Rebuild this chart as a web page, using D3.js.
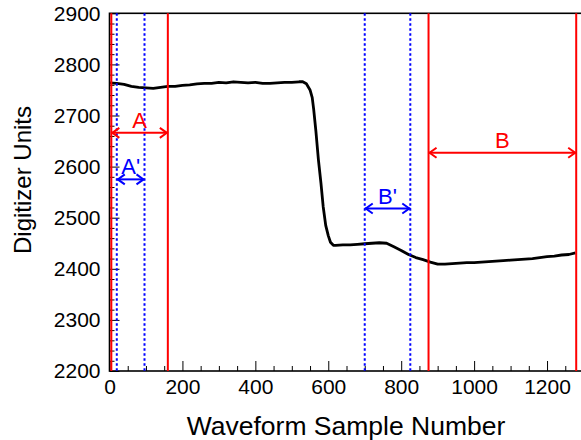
<!DOCTYPE html>
<html>
<head>
<meta charset="utf-8">
<script src="https://cdn.jsdelivr.net/npm/d3@7"></script>
<style>
  html, body { margin: 0; padding: 0; background: #fff; }
  svg { display: block; font-family: "Liberation Sans", Arial, Helvetica, sans-serif; }
</style>
</head>
<body>
<svg id="chart" width="581" height="440"></svg>
<script>
// ---- Data ----
const sampleNumber = [0,20,40,60,80,100,120,140,160,180,200,220,240,260,280,300,320,340,360,380,400,420,440,460,480,500,520,530,540,550,556,560,566,573,580,586,593,600,606,614,620,640,660,680,700,720,740,760,780,800,820,840,860,880,900,920,940,960,980,1000,1020,1040,1060,1080,1100,1120,1140,1160,1180,1200,1220,1240,1260,1278];
const digitizerUnits = [2764,2763,2761,2757,2755,2754,2753,2755,2757,2757,2759,2760,2762,2763,2763,2765,2764,2766,2765,2764,2765,2763,2763,2764,2765,2765,2766,2766,2762,2750,2735,2712,2670,2613,2567,2522,2485,2465,2452,2446,2446,2447,2447,2448,2449,2450,2451,2450,2443,2436,2428,2422,2418,2413,2409,2409,2410,2411,2412,2412,2413,2414,2415,2416,2417,2418,2419,2420,2422,2424,2425,2427,2428,2431];

const redWindows = [5, 160, 875, 1280];      // solid red lines
const blueWindows = [20, 96, 700, 825];      // dotted blue lines
const rangeArrows = [
  { label: "A",  from: 5,   to: 160,  value: 2666, color: "#ff0000" },
  { label: "A'", from: 20,  to: 96,   value: 2575, color: "#0000ff" },
  { label: "B'", from: 700, to: 825,  value: 2518, color: "#0000ff" },
  { label: "B",  from: 875, to: 1280, value: 2627, color: "#ff0000" }
];
const xTickValues = [0, 200, 400, 600, 800, 1000, 1200];
const yTickValues = [2200, 2300, 2400, 2500, 2600, 2700, 2800, 2900];
const xTitle = "Waveform Sample Number";
const yTitle = "Digitizer Units";

// ---- Layout ----
const svg = d3.select("#chart");
const pL = 109.5, pR = 583.5, pT = 13.3, pB = 371;
const x = d3.scaleLinear().domain([0, 1300]).range([pL, pR]);
const y = d3.scaleLinear().domain([2200, 2900]).range([pB, pT]);

// frame
svg.append("rect")
  .attr("x", pL).attr("y", pT)
  .attr("width", pR - pL).attr("height", pB - pT)
  .attr("fill", "none").attr("stroke", "#000").attr("stroke-width", 1.6);

// minor ticks
const xMinor = d3.range(0, 1301, 50).filter(v => v % 200 !== 0);
const yMinor = d3.range(2200, 2901, 20).filter(v => v % 100 !== 0);

svg.append("g").attr("transform", `translate(0,${pB})`)
  .call(d3.axisBottom(x).tickValues(xMinor).tickSizeInner(-5).tickSizeOuter(0).tickFormat(""))
  .call(g => g.select(".domain").remove());
svg.append("g").attr("transform", `translate(${pL},0)`)
  .call(d3.axisLeft(y).tickValues(yMinor).tickSizeInner(-5).tickSizeOuter(0).tickFormat(""))
  .call(g => g.select(".domain").remove());

// major axes
const xAxis = svg.append("g").attr("transform", `translate(0,${pB})`)
  .call(d3.axisBottom(x).tickValues(xTickValues).tickSizeInner(-10).tickSizeOuter(0).tickPadding(8).tickFormat(d3.format("d")));
xAxis.select(".domain").remove();
xAxis.selectAll("text").attr("font-size", 21).attr("fill", "#000").attr("dy", "0.71em");

const yAxis = svg.append("g").attr("transform", `translate(${pL},0)`)
  .call(d3.axisLeft(y).tickValues(yTickValues).tickSizeInner(-10).tickSizeOuter(0).tickPadding(9).tickFormat(d3.format("d")));
yAxis.select(".domain").remove();
yAxis.selectAll("text").attr("font-size", 21).attr("fill", "#000");

svg.selectAll(".tick line").attr("stroke", "#000").attr("stroke-width", 1);

// waveform
const line = d3.line().x((d, i) => x(sampleNumber[i])).y(d => y(d));
svg.append("path")
  .datum(digitizerUnits)
  .attr("d", line)
  .attr("fill", "none")
  .attr("stroke", "#000")
  .attr("stroke-width", 2.8)
  .attr("stroke-linejoin", "round");

// vertical window lines
svg.selectAll(".redline").data(redWindows).enter().append("line")
  .attr("x1", d => x(d)).attr("x2", d => x(d))
  .attr("y1", pT).attr("y2", pB)
  .attr("stroke", "#ff0000").attr("stroke-width", 2);
svg.selectAll(".blueline").data(blueWindows).enter().append("line")
  .attr("x1", d => x(d)).attr("x2", d => x(d))
  .attr("y1", pT).attr("y2", pB)
  .attr("stroke", "#0000ff").attr("stroke-width", 2)
  .attr("stroke-dasharray", "2.5,2.5");

// arrows
const ah = 8, aw = 5;
rangeArrows.forEach(a => {
  const x1 = x(a.from), x2 = x(a.to), yy = y(a.value);
  const g = svg.append("g").attr("stroke", a.color).attr("fill", "none").attr("stroke-width", 2);
  g.append("line").attr("x1", x1).attr("x2", x2).attr("y1", yy).attr("y2", yy);
  g.append("path").attr("d", `M${x1 + ah},${yy - aw}L${x1 + 1},${yy}L${x1 + ah},${yy + aw}`);
  g.append("path").attr("d", `M${x2 - ah},${yy - aw}L${x2 - 1},${yy}L${x2 - ah},${yy + aw}`);
  svg.append("text")
    .attr("x", (x1 + x2) / 2).attr("y", yy - 5)
    .attr("text-anchor", "middle")
    .attr("font-size", 22)
    .attr("fill", a.color)
    .text(a.label);
});

// titles
svg.append("text")
  .attr("x", 346).attr("y", 435)
  .attr("text-anchor", "middle").attr("font-size", 26.5).attr("fill", "#000")
  .text(xTitle);
svg.append("text")
  .attr("transform", "translate(31,180) rotate(-90)")
  .attr("text-anchor", "middle").attr("font-size", 24).attr("fill", "#000")
  .text(yTitle);
</script>
</body>
</html>
